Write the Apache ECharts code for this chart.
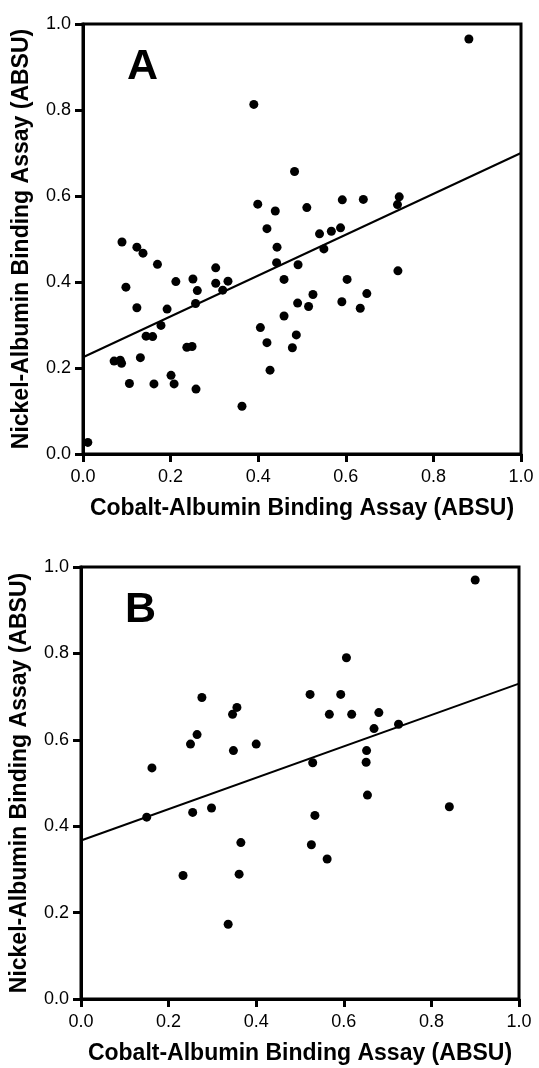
<!DOCTYPE html>
<html>
<head>
<meta charset="utf-8">
<title>Nickel vs Cobalt albumin binding</title>
<script src="https://cdn.jsdelivr.net/npm/echarts@6/dist/echarts.min.js"></script>
<style>
  html, body { margin: 0; padding: 0; background: #fff; }
  #chart { width: 539px; height: 1068px; }
</style>
</head>
<body>
<div id="chart"></div>
<script>
// panel A: [cobalt, nickel] in ABSU
const pointsA = [
  [0.011, 0.027], [0.071, 0.216], [0.085, 0.218], [0.088, 0.211], [0.089, 0.493],
  [0.098, 0.388], [0.106, 0.164], [0.123, 0.481], [0.137, 0.467], [0.123, 0.340],
  [0.131, 0.224], [0.144, 0.274], [0.159, 0.273], [0.162, 0.163], [0.170, 0.441],
  [0.178, 0.299], [0.192, 0.337], [0.201, 0.183], [0.208, 0.163], [0.212, 0.401],
  [0.237, 0.248], [0.249, 0.250], [0.251, 0.407], [0.257, 0.350], [0.258, 0.151],
  [0.261, 0.380], [0.303, 0.433], [0.303, 0.397], [0.319, 0.381], [0.331, 0.402],
  [0.363, 0.111], [0.390, 0.813], [0.399, 0.581], [0.405, 0.294], [0.420, 0.524],
  [0.420, 0.259], [0.427, 0.195], [0.439, 0.565], [0.442, 0.445], [0.443, 0.481],
  [0.459, 0.406], [0.459, 0.321], [0.478, 0.247], [0.483, 0.657], [0.487, 0.277],
  [0.490, 0.351], [0.491, 0.440], [0.511, 0.573], [0.515, 0.343], [0.525, 0.371],
  [0.540, 0.512], [0.550, 0.477], [0.567, 0.518], [0.588, 0.526], [0.591, 0.354],
  [0.592, 0.591], [0.603, 0.406], [0.633, 0.339], [0.640, 0.592], [0.648, 0.373],
  [0.718, 0.580], [0.719, 0.426], [0.722, 0.598], [0.881, 0.965]
];
const fitA = [[0, 0.225], [1, 0.700]];

// panel B
const pointsB = [
  [0.150, 0.421], [0.162, 0.535], [0.233, 0.286], [0.250, 0.590], [0.255, 0.432],
  [0.265, 0.612], [0.276, 0.698], [0.298, 0.442], [0.336, 0.173], [0.346, 0.659],
  [0.348, 0.575], [0.356, 0.675], [0.361, 0.289], [0.365, 0.362], [0.400, 0.590],
  [0.523, 0.705], [0.526, 0.357], [0.529, 0.547], [0.534, 0.425], [0.562, 0.324],
  [0.567, 0.659], [0.593, 0.705], [0.606, 0.790], [0.618, 0.659], [0.651, 0.548],
  [0.652, 0.575], [0.654, 0.472], [0.669, 0.626], [0.680, 0.663], [0.725, 0.636],
  [0.841, 0.445], [0.900, 0.970]
];
const fitB = [[0, 0.367], [1, 0.730]];

const ticks = [0, 0.2, 0.4, 0.6, 0.8, 1.0];
const xTitle = 'Cobalt-Albumin Binding Assay (ABSU)';
const yTitle = 'Nickel-Albumin Binding Assay (ABSU)';
const panelLabels = ['A', 'B'];

const font = '"Liberation Sans", Arial, sans-serif';

function valueAxis(gridIndex, name, isX) {
  return {
    type: 'value',
    gridIndex: gridIndex,
    min: ticks[0],
    max: ticks[ticks.length - 1],
    interval: 0.2,
    name: name,
    nameLocation: 'middle',
    nameGap: isX ? 43 : 50,
    nameTextStyle: { fontFamily: font, fontWeight: 'bold', fontSize: 23, color: '#000' },
    axisLine: { show: true, onZero: false, lineStyle: { color: '#000', width: 3 } },
    axisTick: { show: true, inside: false, length: 8, lineStyle: { color: '#000', width: 3 } },
    axisLabel: {
      fontFamily: font, fontSize: 18, color: '#000',
      margin: isX ? 14 : 12,
      formatter: v => v.toFixed(1)
    },
    splitLine: { show: false }
  };
}

const chart = echarts.init(document.getElementById('chart'), null, { renderer: 'canvas' });

chart.setOption({
  animation: false,
  backgroundColor: '#fff',
  grid: [
    { left: 83, top: 24, width: 438, height: 430, show: true, borderColor: '#000', borderWidth: 3 },
    { left: 80, top: 567, width: 439, height: 432, show: true, borderColor: '#000', borderWidth: 3 }
  ],
  xAxis: [valueAxis(0, xTitle, true), valueAxis(1, xTitle, true)],
  yAxis: [valueAxis(0, yTitle, false), valueAxis(1, yTitle, false)],
  graphic: [
    { type: 'text', left: 127, top: 46, style: { text: panelLabels[0], fontFamily: font, fontWeight: 'bold', fontSize: 43, fill: '#000' } },
    { type: 'text', left: 125, top: 589, style: { text: panelLabels[1], fontFamily: font, fontWeight: 'bold', fontSize: 43, fill: '#000' } }
  ],
  series: [
    { type: 'scatter', xAxisIndex: 0, yAxisIndex: 0, data: pointsA, symbolSize: 9, itemStyle: { color: '#000', opacity: 1 } },
    { type: 'line', xAxisIndex: 0, yAxisIndex: 0, data: fitA, showSymbol: false, lineStyle: { color: '#000', width: 2 } },
    { type: 'scatter', xAxisIndex: 1, yAxisIndex: 1, data: pointsB, symbolSize: 9, itemStyle: { color: '#000', opacity: 1 } },
    { type: 'line', xAxisIndex: 1, yAxisIndex: 1, data: fitB, showSymbol: false, lineStyle: { color: '#000', width: 2 } }
  ]
});
</script>
</body>
</html>
